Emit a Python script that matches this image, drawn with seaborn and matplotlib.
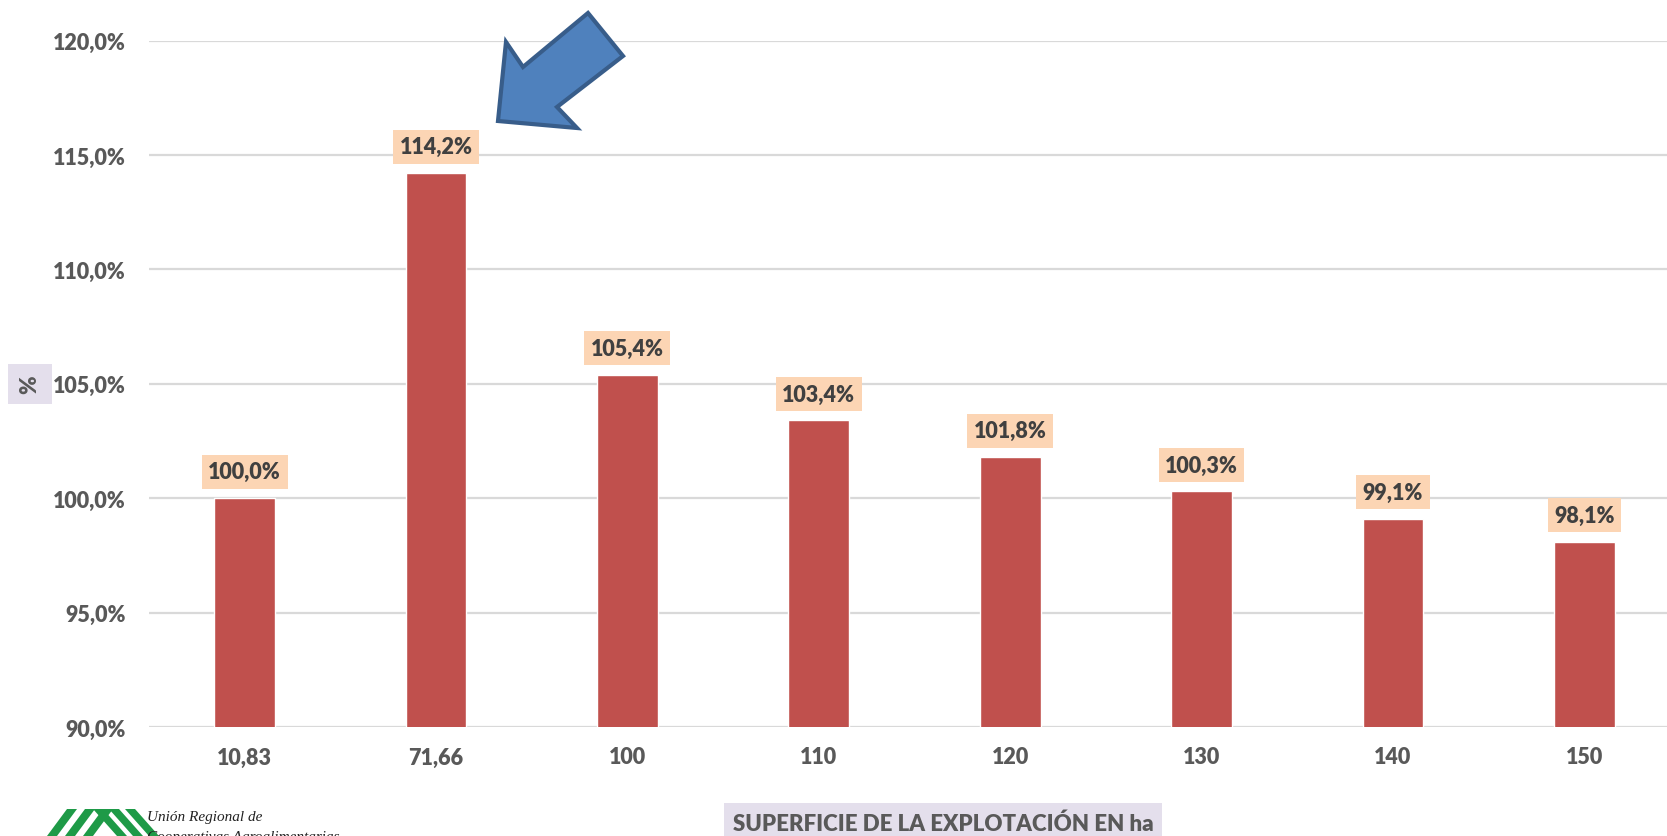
import numpy as np
import pandas as pd
import matplotlib
matplotlib.use("Agg")
import matplotlib.pyplot as plt
from matplotlib.patches import Polygon
import seaborn as sns

# data
superficie = ["10,83", "71,66", "100", "110", "120", "130", "140", "150"]
porcentaje = [100.0, 114.2, 105.4, 103.4, 101.8, 100.3, 99.1, 98.1]
yticks = [90, 95, 100, 105, 110, 115, 120]

df = pd.DataFrame({"superficie": superficie, "porcentaje": porcentaje})

sns.set_theme(style="white")
plt.rcParams["font.family"] = ["Lato", "DejaVu Sans"]

W, H = 1667, 837
fig = plt.figure(figsize=(W / 100, H / 100), dpi=100)
ax = fig.add_axes([149 / W, 1 - 728 / H, 1531 / W, (728 - 41.5) / H])

sns.barplot(data=df, x="superficie", y="porcentaje", color="#C0504D",
            width=0.317, saturation=1, ax=ax, zorder=3)

ax.set_xlim(-0.5, 7.5)
ax.set_ylim(90, 120)
ax.set_yticks(yticks)
ax.set_yticklabels([f"{v:.1f}%".replace(".", ",") for v in yticks])
ax.grid(axis="y", color="#D9D9D9", linewidth=1.6, zorder=0)
ax.set_axisbelow(True)
for s in ax.spines.values():
    s.set_visible(False)
ax.tick_params(axis="both", length=0, labelsize=15.5, labelcolor="#595959")
ax.tick_params(axis="y", pad=17)
ax.tick_params(axis="x", pad=14)
for lab in ax.get_xticklabels() + ax.get_yticklabels():
    lab.set_fontweight("heavy")
ax.set_xlabel("")
ax.set_ylabel("")

# data labels
for i, v in enumerate(porcentaje):
    ax.annotate(f"{v:.1f}%".replace(".", ","), (i, v), xytext=(0, 19),
                textcoords="offset points", ha="center", va="center",
                fontsize=15.5, fontweight="heavy", color="#404040",
                bbox=dict(boxstyle="square,pad=0.3", fc="#FCD5B4", ec="none"),
                zorder=5, annotation_clip=False)

# axis titles with boxes
fig.text(30 / W, 1 - 385 / H, "%", rotation=90, ha="center", va="center",
         fontsize=16, fontweight="heavy", color="#595959",
         bbox=dict(boxstyle="square,pad=0.5", fc="#E4DFEC", ec="none"))
fig.text(943 / W, 1 - 824 / H, "SUPERFICIE DE LA EXPLOTACIÓN EN ha",
         ha="center", va="center", fontsize=16, fontweight="heavy",
         color="#595959",
         bbox=dict(boxstyle="square,pad=0.4", fc="#E4DFEC", ec="none"))

# blue block arrow pointing at the 71,66 bar
pts = [(498, 122), (506, 43), (523, 68), (588, 14), (623, 57), (557, 108), (577, 129)]
arrow = Polygon([(x / W, 1 - y / H) for x, y in pts], closed=True,
                transform=fig.transFigure, fc="#4F81BD", ec="#385D8A",
                lw=3, joinstyle="miter", zorder=10)
fig.patches.append(arrow)

# logo at bottom left
stripes = []
for k in range(3):
    x0 = 47 + k * 18
    stripes.append([(x0, 837), (x0 + 10, 837), (x0 + 30, 810), (x0 + 20, 810)])
for k in range(3):
    x0 = 93 + k * 16
    stripes.append([(x0, 810), (x0 + 10, 810), (x0 + 34, 837), (x0 + 24, 837)])
for st in stripes:
    fig.patches.append(Polygon([(x / W, 1 - y / H) for x, y in st],
                               closed=True, transform=fig.transFigure,
                               fc="#1E9A47", ec="none"))
fig.text(147 / W, 1 - 818 / H, "Unión Regional de", fontsize=11,
         family="Liberation Serif", style="italic", color="#222222", va="center")
fig.text(147 / W, 1 - 838 / H, "Cooperativas Agroalimentarias", fontsize=11,
         family="Liberation Serif", style="italic", color="#222222", va="center")

fig.savefig("out.png", dpi=100)
